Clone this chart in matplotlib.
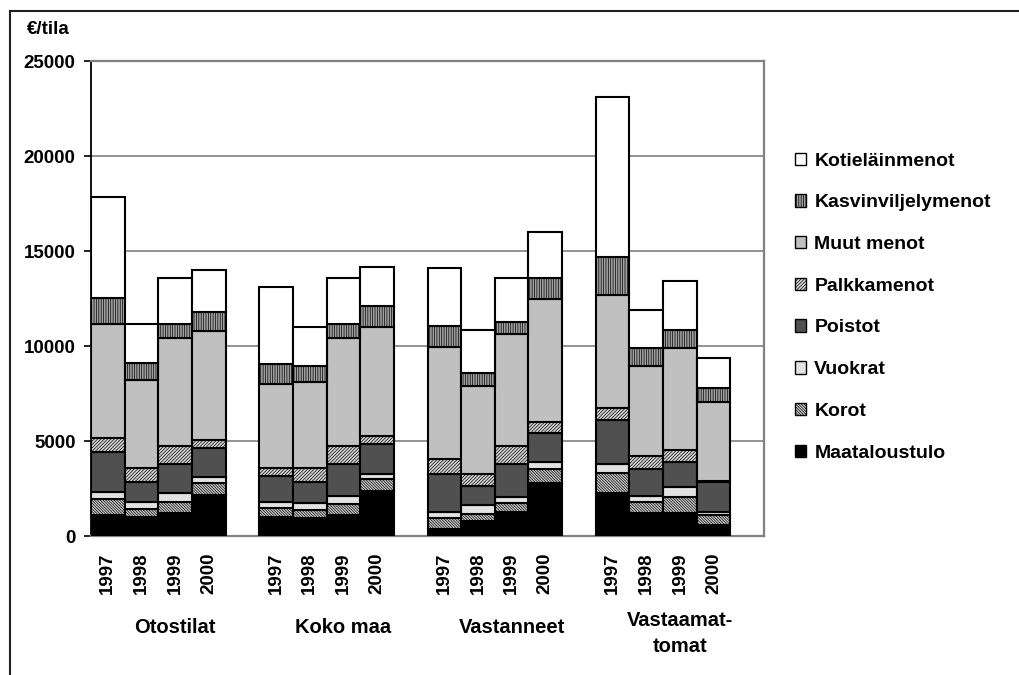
import matplotlib.pyplot as plt
import matplotlib.lines as mlines
from matplotlib.patches import Patch

plt.rcParams['font.family'] = ['Liberation Sans', 'DejaVu Sans']
plt.rcParams['hatch.linewidth'] = 0.5

groups = ["Otostilat", "Koko maa", "Vastanneet", "Vastaamat-\ntomat"]
years = ["1997", "1998", "1999", "2000"]

# segment values (€/tila), bottom to top, 16 bars = 4 groups x 4 years
maataloustulo = [1100, 1020, 1230, 2160, 980, 930, 1100, 2370,
                 370, 810, 1250, 2810, 2250, 1230, 1230, 580]
korot = [830, 380, 580, 610, 510, 440, 570, 610,
         590, 350, 470, 700, 1050, 580, 840, 520]
vuokrat = [400, 410, 440, 320, 320, 350, 450, 280,
           320, 470, 320, 400, 490, 290, 490, 150]
poistot = [2110, 1050, 1540, 1520, 1350, 1140, 1670, 1580,
           1980, 1020, 1750, 1490, 2310, 1410, 1350, 1610]
palkkamenot = [730, 740, 950, 440, 440, 740, 950, 420,
               780, 610, 960, 620, 650, 700, 620, 50]
muut_menot = [5970, 4610, 5660, 5760, 4400, 4490, 5660, 5760,
              5920, 4630, 5860, 6450, 5930, 4740, 5350, 4160]
kasvinviljelymenot = [1390, 880, 740, 960, 1040, 860, 740, 1080,
                      1110, 670, 670, 1090, 2020, 960, 960, 740]
kotielainmenot = [5330, 2050, 2420, 2230, 4080, 2070, 2420, 2080,
                  3020, 2280, 2280, 2420, 8420, 1980, 2600, 1540]

series = [
    ("Maataloustulo", maataloustulo, "black", None),
    ("Korot", korot, "#d0d0d0", "\\" * 12),
    ("Vuokrat", vuokrat, "#e2e2e2", None),
    ("Poistot", poistot, "#505050", None),
    ("Palkkamenot", palkkamenot, "#d8d8d8", "/" * 10),
    ("Muut menot", muut_menot, "#c0c0c0", None),
    ("Kasvinviljelymenot", kasvinviljelymenot, "#a0a0a0", "|" * 7),
    ("Kotieläinmenot", kotielainmenot, "white", None),
]

# 4 bars per group, one empty slot between groups
x = [g * 5 + i for g in range(4) for i in range(4)]

fig = plt.figure(figsize=(10.19, 6.75), dpi=100)
ax = fig.add_axes([0.0893, 0.2059, 0.6605, 0.7037])

bottom = [0] * len(x)
handles = []
for name, vals, color, hatch in series:
    ax.bar(x, vals, width=1.0, bottom=bottom, color=color, hatch=hatch,
           edgecolor="black", linewidth=1.5, zorder=3)
    bottom = [b + v for b, v in zip(bottom, vals)]
    handles.append(Patch(facecolor=color, hatch=hatch, edgecolor="black",
                         linewidth=1.0, label=name))

ax.set_xlim(-0.5, 19.5)
ax.set_ylim(0, 25000)
ax.set_yticks(range(0, 25001, 5000))
ax.set_yticklabels([str(v) for v in range(0, 25001, 5000)],
                   fontsize=13.5, fontweight="bold")
ax.tick_params(axis="y", length=5, width=1.2, pad=6)
ax.set_xticks(x)
ax.set_xticklabels(years * 4, rotation=90, fontsize=13.5, fontweight="bold")
ax.tick_params(axis="x", length=0, pad=12)
ax.grid(axis="y", color="#808080", linewidth=1.2, zorder=0)

for side in ["top", "right", "bottom"]:
    ax.spines[side].set_color("#808080")
    ax.spines[side].set_linewidth(1.6)
ax.spines["left"].set_color("black")
ax.spines["left"].set_linewidth(1.3)

# group labels below the year labels
trans = ax.get_xaxis_transform()
for g, name in enumerate(groups):
    gx = g * 5 + 2.0
    if "\n" in name:
        ax.text(gx, -0.205, name, transform=trans, ha="center", va="center",
                fontsize=14.5, fontweight="bold", linespacing=1.45)
    else:
        ax.text(gx, -0.193, name, transform=trans, ha="center", va="center",
                fontsize=14.5, fontweight="bold")

fig.text(27 / 1019, 1 - 30 / 675, "€/tila", fontsize=13.5, fontweight="bold",
         ha="left", va="center")

fig.legend(handles=handles[::-1], loc="center left",
           bbox_to_anchor=(0.780, 0.545), frameon=False,
           prop={"weight": "bold", "size": 14},
           handlelength=0.6, handleheight=0.6, handletextpad=0.4,
           labelspacing=1.27, borderpad=0, borderaxespad=0)

# chart area border
fig.add_artist(mlines.Line2D([10 / 1019, 1.0], [1 - 11 / 675, 1 - 11 / 675],
                             transform=fig.transFigure, color="#202020", linewidth=1.5))
fig.add_artist(mlines.Line2D([10 / 1019, 10 / 1019], [1 - 11 / 675, 0.0],
                             transform=fig.transFigure, color="#202020", linewidth=1.5))

fig.savefig("out.png", dpi=100)
